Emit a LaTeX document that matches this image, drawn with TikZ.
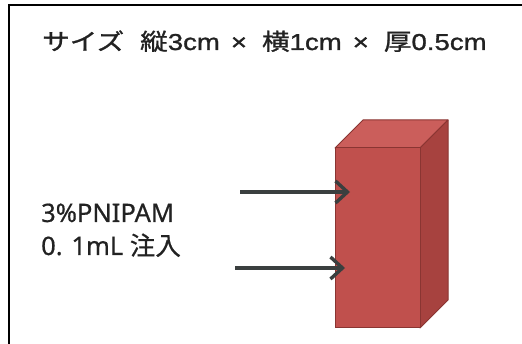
\documentclass[tikz,border=0pt]{standalone}
\usepackage{fontspec}
\setmainfont[FakeBold=0.6]{Noto Sans}
\newfontfamily\cjk[FakeBold=0.6]{Noto Sans CJK JP}
\newfontfamily\titlelatin[FakeStretch=1.2,FakeBold=1.2]{Liberation Sans}
\newfontfamily\titlecjk[FakeStretch=1.2,FakeBold=1.2]{Noto Sans CJK JP}
\usetikzlibrary{arrows.meta}
\definecolor{boxfront}{HTML}{C0504D}
\definecolor{boxtop}{HTML}{CB5E5B}
\definecolor{boxside}{HTML}{A7423F}
\definecolor{boxedge}{HTML}{8A3532}
\definecolor{arrowgray}{HTML}{3A3F3F}
\definecolor{ink}{HTML}{222222}
\tikzset{
  title text/.style={font=\fontsize{23}{27}\selectfont, text=ink, inner sep=0pt},
  label text/.style={font=\fontsize{25.5}{30}\selectfont, text=ink, inner sep=0pt},
  inject arrow/.style={draw=arrowgray, line width=3.8pt,
    -{Straight Barb[length=12pt,width=22pt,line width=3.4pt]}},
  face/.style={draw=boxedge, line width=1pt, line join=round}
}
\begin{document}
\begin{tikzpicture}[x=1pt,y=-1pt]
  \useasboundingbox (0,0) rectangle (522,344);
  \fill[white] (0,0) rectangle (522,344);
  % frame edges
  \draw[black, line width=2.6pt] (9,344) -- (9,5) -- (522,5);
  % title: sample dimensions
  \node[title text, anchor=base west] (title) at (42,50)
    {\titlecjk サイズ\hspace{16pt}縦\titlelatin 3cm\hspace{11pt}×\hspace{15pt}\titlecjk 横\titlelatin 1cm\hspace{11pt}×\hspace{15pt}\titlecjk 厚\titlelatin 0.5cm};
  % specimen block
  \coordinate (fa) at (335,148);
  \coordinate (fb) at (420,148);
  \coordinate (fc) at (420,328);
  \coordinate (fd) at (335,328);
  \coordinate (ba) at (363,120);
  \coordinate (bb) at (448,120);
  \coordinate (bc) at (448,300);
  \fill[boxtop, face] (fa) -- (ba) -- (bb) -- (fb) -- cycle;
  \fill[boxside, face] (fb) -- (bb) -- (bc) -- (fc) -- cycle;
  \fill[boxfront, face] (fa) -- (fb) -- (fc) -- (fd) -- cycle;
  % injection label
  \node[label text, anchor=base west] (conc) at (41,222) {3\%PNIPAM};
  \node[label text, anchor=base west] (vol) at (41,255) {0. 1mL {\cjk 注入}};
  % injection arrows
  \coordinate (a1s) at (240,192);
  \coordinate (a1e) at (350,192);
  \coordinate (a2s) at (235,268);
  \coordinate (a2e) at (345,268);
  \draw[inject arrow] (a1s) -- (a1e);
  \draw[inject arrow] (a2s) -- (a2e);
\end{tikzpicture}
\end{document}
